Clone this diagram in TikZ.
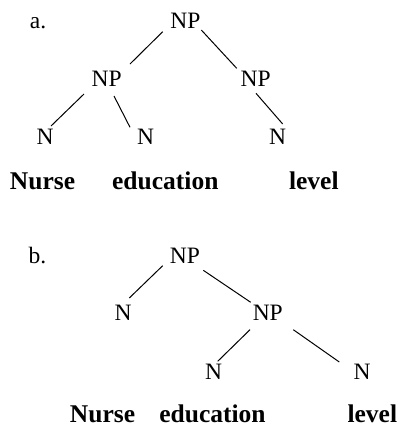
\documentclass[tikz,border=0pt]{standalone}
\usepackage{fontspec}
\setmainfont{Liberation Serif}
\usetikzlibrary{calc}
\begin{document}
\begin{tikzpicture}[x=1pt,y=-1pt,
  lab/.style={anchor=base,inner sep=0pt,font=\fontsize{23.5}{28}\selectfont},
  word/.style={anchor=base,inner sep=0pt,font=\fontsize{25.5}{30}\selectfont\bfseries},
  edge/.style={draw=black,line width=1pt}]
\useasboundingbox (0,0) rectangle (402,426);
% tree a
\node[lab] (la) at (38,28.3) {a.};
\node[lab] (ra) at (185.5,28.3) {NP};
\node[lab] (npl) at (106.7,86) {NP};
\node[lab] (npr) at (255.7,86) {NP};
\node[lab] (na1) at (45,144) {N};
\node[lab] (na2) at (145.7,144) {N};
\node[lab] (na3) at (277.7,144) {N};
\node[word] (wa1) at (42.5,189.3) {Nurse};
\node[word] (wa2) at (165.3,189.3) {education};
\node[word] (wa3) at (313.8,189.3) {level};
\draw[edge] ($(ra.base)+(-22.8,3.4)$) -- ($(npl.base)+(23.3,-22)$);
\draw[edge] ($(ra.base)+(15.8,1.7)$) -- ($(npr.base)+(-19,-17.7)$);
\draw[edge] ($(npl.base)+(-22.7,8)$) -- ($(na1.base)+(6,-18)$);
\draw[edge] ($(npl.base)+(7.3,10)$) -- ($(na2.base)+(-15.7,-16.7)$);
\draw[edge] ($(npr.base)+(0.3,7.3)$) -- ($(na3.base)+(5,-20)$);
% tree b
\node[lab] (lb) at (37.5,263) {b.};
\node[lab] (rb) at (185,263) {NP};
\node[lab] (nbl) at (123,320.7) {N};
\node[lab] (npb) at (267.8,320.7) {NP};
\node[lab] (nb2) at (213.7,379.7) {N};
\node[lab] (nb3) at (362,379.7) {N};
\node[word] (wb1) at (102.5,422) {Nurse};
\node[word] (wb2) at (212.5,422) {education};
\node[word] (wb3) at (372.3,422) {level};
\draw[edge] ($(rb.base)+(-22.3,2.7)$) -- ($(nbl.base)+(6.3,-22.7)$);
\draw[edge] ($(rb.base)+(18.3,7.3)$) -- ($(npb.base)+(-17.1,-18.4)$);
\draw[edge] ($(npb.base)+(-17.8,9)$) -- ($(nb2.base)+(4,-18.4)$);
\draw[edge] ($(npb.base)+(25.5,9)$) -- ($(nb3.base)+(-22.7,-17.7)$);
\end{tikzpicture}
\end{document}
